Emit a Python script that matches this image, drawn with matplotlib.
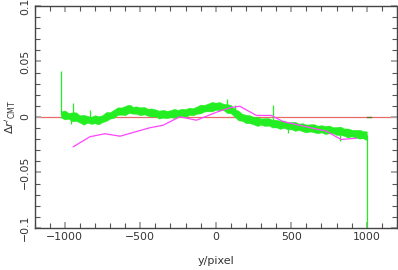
import matplotlib
matplotlib.use('Agg')
import matplotlib.pyplot as plt
import numpy as np
from matplotlib.ticker import MultipleLocator, FixedLocator, FixedFormatter

plt.rcParams['font.family'] = ['DejaVu Sans']

# green band: x positions, estimated centre and spread
band_x = list(range(-1025, 1001, 25))
band_c = [0.0020, 0.0015, 0.0010, 0.0005, -0.0005, -0.0015, -0.0020, -0.0025, -0.0025, -0.0025,
          -0.0025, -0.0020, 0.0000, 0.0015, 0.0030, 0.0045, 0.0055, 0.0060, 0.0065, 0.0065,
          0.0060, 0.0055, 0.0050, 0.0045, 0.0040, 0.0035, 0.0030, 0.0025, 0.0025, 0.0025,
          0.0030, 0.0035, 0.0038, 0.0040, 0.0045, 0.0050, 0.0060, 0.0070, 0.0078, 0.0085,
          0.0090, 0.0095, 0.0095, 0.0090, 0.0080, 0.0065, 0.0040, 0.0020, 0.0000, -0.0015,
          -0.0025, -0.0030, -0.0036, -0.0040, -0.0045, -0.0050, -0.0055, -0.0060, -0.0065, -0.0070,
          -0.0075, -0.0080, -0.0085, -0.0090, -0.0093, -0.0095, -0.0100, -0.0105, -0.0108, -0.0110,
          -0.0113, -0.0115, -0.0120, -0.0125, -0.0130, -0.0135, -0.0140, -0.0145, -0.0150, -0.0155,
          -0.0158, -0.0160]
band_dlo = [0.0025, 0.0037, 0.0027, 0.0044, 0.0031, 0.0035, 0.0050, 0.0027, 0.0037, 0.0032,
            0.0042, 0.0026, 0.0036, 0.0030, 0.0039, 0.0027, 0.0034, 0.0044, 0.0029, 0.0035,
            0.0031, 0.0040, 0.0026, 0.0034, 0.0037, 0.0029, 0.0045, 0.0031, 0.0036, 0.0027,
            0.0039, 0.0032, 0.0030, 0.0041, 0.0027, 0.0035, 0.0031, 0.0037, 0.0029, 0.0034,
            0.0040, 0.0030, 0.0036, 0.0027, 0.0044, 0.0032, 0.0039, 0.0050, 0.0035, 0.0041,
            0.0031, 0.0037, 0.0045, 0.0030, 0.0036, 0.0027, 0.0039, 0.0034, 0.0042, 0.0029,
            0.0035, 0.0031, 0.0040, 0.0027, 0.0036, 0.0044, 0.0030, 0.0034, 0.0039, 0.0029,
            0.0041, 0.0032, 0.0027, 0.0037, 0.0031, 0.0035, 0.0045, 0.0030, 0.0036, 0.0040,
            0.0034, 0.0050]
band_dhi = [0.0031, 0.0044, 0.0027, 0.0037, 0.0047, 0.0030, 0.0040, 0.0034, 0.0027, 0.0041,
            0.0032, 0.0037, 0.0045, 0.0029, 0.0035, 0.0042, 0.0031, 0.0039, 0.0047, 0.0027,
            0.0036, 0.0032, 0.0041, 0.0030, 0.0037, 0.0034, 0.0027, 0.0040, 0.0031, 0.0036,
            0.0044, 0.0029, 0.0037, 0.0032, 0.0039, 0.0030, 0.0035, 0.0042, 0.0031, 0.0037,
            0.0045, 0.0034, 0.0040, 0.0030, 0.0036, 0.0044, 0.0032, 0.0037, 0.0029, 0.0035,
            0.0041, 0.0031, 0.0037, 0.0027, 0.0034, 0.0040, 0.0030, 0.0036, 0.0032, 0.0039,
            0.0029, 0.0035, 0.0042, 0.0031, 0.0037, 0.0027, 0.0034, 0.0041, 0.0030, 0.0036,
            0.0032, 0.0039, 0.0029, 0.0035, 0.0044, 0.0031, 0.0037, 0.0030, 0.0034, 0.0040,
            0.0032, 0.0030]

# isolated spikes in the green series
spike_x = [-1026, -947, -960, -833, -560, 73, 130, 378, 480, 820, 1000]
spike_from = [0.002, 0.001, 0.000, -0.002, 0.006, 0.010, 0.004, -0.005, -0.007, -0.013, -0.016]
spike_to = [0.041, 0.013, -0.006, 0.006, 0.011, 0.0164, 0.011, 0.0105, -0.014, -0.022, -0.11]

# tail of the green series after the drop
tail_x = [1003, 1030]
tail_y = [0.0, 0.0]

# magenta curve
mag_x = [-943, -833, -734, -634, -436, -348, -238, -128, 5, 93, 159,
         269, 368, 445, 732, 831, 930]
mag_y = [-0.0268, -0.0178, -0.0151, -0.0173, -0.0097, -0.0074, 0.0002, -0.0029,
         0.0043, 0.0083, 0.0097, 0.0014, 0.0014, -0.0041, -0.0128, -0.0203, -0.0191]

xticks = [-1000, -500, 0, 500, 1000]
xlabels = ['\u22121000', '\u2212500', '0', '500', '1000']
yticks = [-0.1, -0.05, 0, 0.05, 0.1]
ylabels = ['\u22120.1', '\u22120.05', '0', '0.05', '0.1']

green = '#22ee22'
fig = plt.figure(figsize=(3.98, 2.70), dpi=100)
ax = fig.add_axes([0.0867, 0.1556, 0.9108, 0.8222])

c = np.array(band_c)
ax.axhline(0, color='#e86a6a', lw=0.9, zorder=1)
ax.fill_between(band_x, c - np.array(band_dlo), c + np.array(band_dhi),
                color=green, lw=0.3, edgecolor=green, zorder=2)
ax.vlines(spike_x, spike_from, spike_to, color=green, lw=0.9, zorder=2)
ax.plot(tail_x, tail_y, color='#557722', lw=1.0, zorder=2)
ax.plot(mag_x, mag_y, color='#ff44ff', lw=0.9, zorder=3)

ax.set_xlim(-1200, 1200)
ax.set_ylim(-0.1, 0.1)

ax.xaxis.set_major_locator(FixedLocator(xticks))
ax.xaxis.set_major_formatter(FixedFormatter(xlabels))
ax.xaxis.set_minor_locator(MultipleLocator(100))
ax.yaxis.set_major_locator(FixedLocator(yticks))
ax.yaxis.set_major_formatter(FixedFormatter(ylabels))
ax.yaxis.set_minor_locator(MultipleLocator(0.01))

ax.tick_params(which='both', direction='in', top=True, right=True,
               labelsize=7.8, labelcolor='#333333', pad=3)
ax.tick_params(which='major', length=4.5, width=1.4, color='#aaaaaa')
ax.tick_params(which='minor', length=3.8, width=0.8, color='#555555')
for lab in ax.get_yticklabels():
    lab.set_rotation(90)
    lab.set_va('center')

for s in ax.spines.values():
    s.set_color('#444444')
    s.set_linewidth(1.0)

ax.set_xlabel('y/pixel', fontsize=8, color='#333333', labelpad=10)
ax.set_ylabel(r"$\Delta r'_{\rm CMT}$", fontsize=8, color='#333333', labelpad=2)

fig.savefig('out.png', dpi=100)
